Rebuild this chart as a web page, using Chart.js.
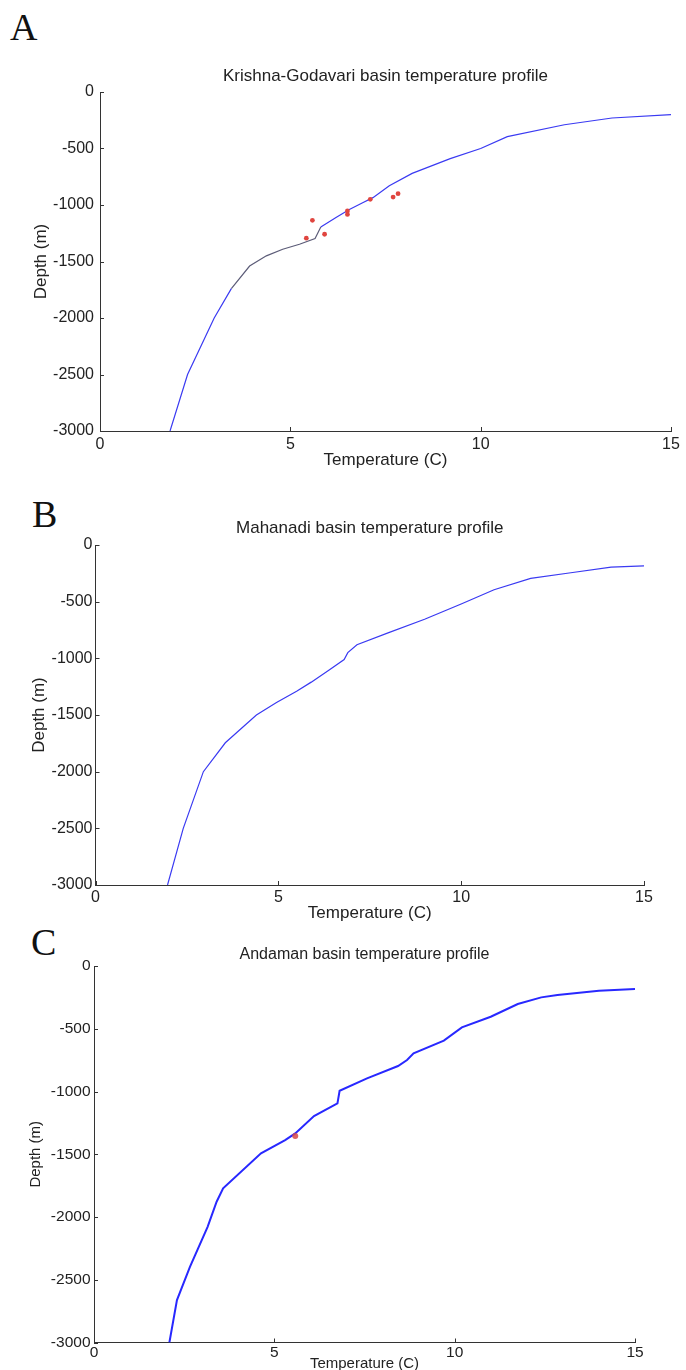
<!DOCTYPE html>
<html>
<head>
<meta charset="utf-8">
<script src="https://cdn.jsdelivr.net/npm/chart.js@4/dist/chart.umd.min.js"></script>
<style>
  html, body { margin: 0; padding: 0; background: #fff; overflow: hidden; }
  body { width: 686px; height: 1370px; position: relative; }
  canvas { position: absolute; left: 0; }
  .tag { position: absolute; font-family: "Liberation Serif", "Times New Roman", serif; font-size: 38px; color: #111; line-height: 1; }
</style>
</head>
<body>
<div class="tag" style="left:10px; top:8px;">A</div>
<div class="tag" style="left:32px; top:495px;">B</div>
<div class="tag" style="left:31px; top:923px;">C</div>
<canvas id="chartA" width="686" height="432" style="top:40px"></canvas>
<canvas id="chartB" width="686" height="445" style="top:480px"></canvas>
<canvas id="chartC" width="686" height="454" style="top:920px"></canvas>
<script>
// axis ticks shared by the three panels
const tempTicks = [0, 5, 10, 15];
const depthTicks = [0, -500, -1000, -1500, -2000, -2500, -3000];

// Krishna-Godavari basin
const tempA = [15, 13.45, 12.2, 10.7, 10.0, 9.2, 8.2, 7.6, 7.17, 6.9, 6.55, 6.2, 5.8, 5.65, 5.24, 4.8, 4.37, 3.93, 3.45, 3.0, 2.3, 1.84];
const depthA = [-200, -230, -290, -395, -500, -590, -720, -830, -935, -980, -1040, -1110, -1195, -1297, -1347, -1392, -1450, -1540, -1740, -2000, -2500, -3000];
const obsTempA = [5.58, 5.42, 5.9, 6.5, 6.5, 7.1, 7.7, 7.83];
const obsDepthA = [-1136, -1294, -1259, -1053, -1083, -950, -930, -900];

// Mahanadi basin
const tempB = [15, 14.1, 13.0, 11.9, 10.9, 10.0, 9.0, 8.0, 7.15, 6.9, 6.8, 6.4, 5.9, 5.5, 4.95, 4.4, 3.55, 2.95, 2.4, 1.97];
const depthB = [-185, -196, -245, -295, -395, -520, -655, -775, -880, -950, -1010, -1100, -1210, -1290, -1390, -1500, -1745, -2000, -2500, -3000];

// Andaman basin
const tempC = [15, 14, 12.85, 12.4, 11.75, 11.0, 10.2, 9.7, 8.86, 8.68, 8.43, 7.57, 6.81, 6.75, 6.1, 5.58, 5.3, 4.63, 3.58, 3.4, 3.15, 2.66, 2.3, 2.09];
const depthC = [-183, -197, -231, -250, -303, -404, -489, -595, -696, -749, -797, -895, -994, -1095, -1196, -1334, -1387, -1493, -1772, -1878, -2078, -2397, -2662, -3000];
const obsTempC = [5.58];
const obsDepthC = [-1355];

const FONT = '"Liberation Sans", Arial, Helvetica, sans-serif';
const pts = (xs, ys) => xs.map((x, i) => ({ x: x, y: ys[i] }));

// MATLAB-style tick marks pointing into the plot
const innerTicks = {
  id: 'innerTicks',
  afterDraw(chart) {
    const { ctx, chartArea, scales } = chart;
    ctx.save();
    ctx.strokeStyle = '#333';
    ctx.lineWidth = 1;
    scales.x.ticks.forEach(t => {
      const px = Math.round(scales.x.getPixelForValue(t.value)) + 0.5;
      ctx.beginPath();
      ctx.moveTo(px, chartArea.bottom);
      ctx.lineTo(px, chartArea.bottom - 4);
      ctx.stroke();
    });
    scales.y.ticks.forEach(t => {
      const py = Math.round(scales.y.getPixelForValue(t.value)) + 0.5;
      ctx.beginPath();
      ctx.moveTo(chartArea.left, py);
      ctx.lineTo(chartArea.left + 4, py);
      ctx.stroke();
    });
    ctx.restore();
  }
};

function makeChart(id, title, datasets, g) {
  new Chart(document.getElementById(id), {
    type: 'scatter',
    data: { datasets: datasets },
    plugins: [innerTicks],
    options: {
      responsive: false,
      animation: false,
      events: [],
      layout: { padding: { left: 0, right: g.padRight, top: 0, bottom: 0 } },
      plugins: {
        legend: { display: false },
        tooltip: { enabled: false },
        title: {
          display: true, text: title, fullSize: false, color: '#222',
          font: { family: FONT, size: g.titleSize, weight: 'normal' },
          padding: { top: g.titleTop, bottom: g.titleBottom }
        }
      },
      scales: {
        x: {
          type: 'linear', min: 0, max: 15,
          afterBuildTicks: s => { s.ticks = tempTicks.map(v => ({ value: v })); },
          afterFit: s => { s.height = g.xHeight; },
          grid: { display: false, drawTicks: false },
          border: { display: true, color: '#333', width: 1 },
          ticks: { color: '#222', padding: g.xTickPad, maxRotation: 0, font: { family: FONT, size: g.tickSize }, callback: v => String(v) },
          title: { display: true, text: 'Temperature (C)', color: '#222', font: { family: FONT, size: g.labelSize }, padding: { top: 0, bottom: g.xTitlePad } }
        },
        y: {
          type: 'linear', min: -3000, max: 0,
          afterBuildTicks: s => { s.ticks = depthTicks.map(v => ({ value: v })); },
          afterFit: s => { s.width = g.yWidth; },
          grid: { display: false, drawTicks: false },
          border: { display: true, color: '#333', width: 1 },
          ticks: { color: '#222', padding: g.yTickPad, font: { family: FONT, size: g.tickSize }, callback: v => String(v) },
          title: { display: true, text: 'Depth (m)', color: '#222', font: { family: FONT, size: g.labelSize }, padding: { top: g.yTitlePad, bottom: 0 } }
        }
      }
    }
  });
}

const lineStyle = (color, width) => ({
  showLine: true, borderColor: color, borderWidth: width, pointRadius: 0, tension: 0, fill: false
});

makeChart('chartA', 'Krishna-Godavari basin temperature profile', [
  Object.assign({ data: pts(obsTempA, obsDepthA), pointRadius: 2.4, pointBackgroundColor: '#e0453f', pointBorderWidth: 0, order: 0 }),
  Object.assign({
    data: pts(tempA, depthA), order: 1,
    segment: { borderColor: c => (c.p0.parsed.y <= -1190 && c.p1.parsed.y >= -1750) ? '#5c5c78' : undefined }
  }, lineStyle('#3a3af2', 1.2))
], { padRight: 15, titleSize: 17, titleTop: 26.3, titleBottom: 5.3, xHeight: 41, xTickPad: 4, tickSize: 16, labelSize: 17, xTitlePad: 1.8, yWidth: 100, yTickPad: 6, yTitlePad: 30.8 });

makeChart('chartB', 'Mahanadi basin temperature profile', [
  Object.assign({ data: pts(tempB, depthB) }, lineStyle('#3a3af2', 1.2))
], { padRight: 42, titleSize: 17, titleTop: 38.3, titleBottom: 6.3, xHeight: 40, xTickPad: 3, tickSize: 16, labelSize: 17, xTitlePad: 1.1, yWidth: 95.5, yTickPad: 3, yTitlePad: 28.9 });

makeChart('chartC', 'Andaman basin temperature profile', [
  Object.assign({ data: pts(obsTempC, obsDepthC), pointRadius: 3, pointBackgroundColor: 'rgba(215,70,70,0.85)', pointBorderWidth: 0, order: 0 }),
  Object.assign({ data: pts(tempC, depthC), order: 1 }, lineStyle('#2828ff', 2))
], { padRight: 51, titleSize: 16, titleTop: 24.9, titleBottom: 1.9, xHeight: 31.5, xTickPad: 1, tickSize: 15.5, labelSize: 15, xTitlePad: 1.3, yWidth: 94, yTickPad: 3.5, yTitlePad: 27 });
</script>
</body>
</html>
